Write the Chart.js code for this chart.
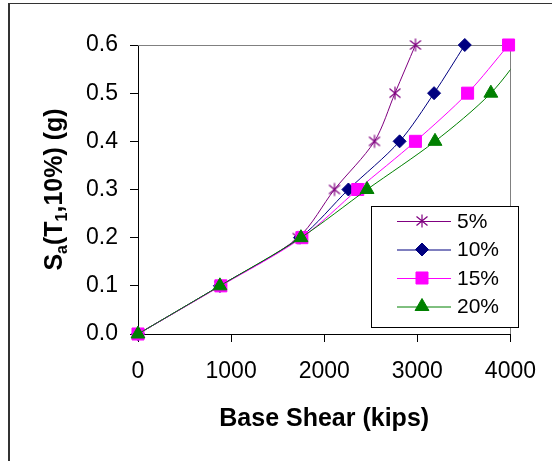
<!DOCTYPE html>
<html>
<head>
<meta charset="utf-8">
<script src="https://cdn.jsdelivr.net/npm/chart.js@4"></script>
<style>
  html, body { margin: 0; padding: 0; background: #fff; }
  #wrap { position: relative; width: 552px; height: 461px; }
  canvas { display: block; }
</style>
</head>
<body>
<div id="wrap"><canvas id="c" width="552" height="461"></canvas></div>
<script>
// ---- data ----
const seriesNames = ['5%', '10%', '15%', '20%'];
const saValues = [0, 0.1, 0.2, 0.3, 0.4, 0.5, 0.6];
const shear5 = [0, 880, 1720, 2110, 2540, 2760, 2980];
const shear10 = [0, 880, 1740, 2260, 2810, 3180, 3510];
const shear15 = [0, 890, 1760, 2360, 2980, 3540, 3980];
const shear20 = [0, 880, 1750, 2460, 3190, 3790, 4200];
const xTicks = [0, 1000, 2000, 3000, 4000];
const yTicks = [0, 0.1, 0.2, 0.3, 0.4, 0.5, 0.6];

const colors = ['#800080', '#000080', '#FF00FF', '#008000'];

// asterisk marker
function makeAsterisk(color) {
  const c = document.createElement('canvas');
  c.width = 16; c.height = 16;
  const g = c.getContext('2d');
  g.strokeStyle = color; g.lineWidth = 1.2;
  g.beginPath();
  g.moveTo(8, 1.5); g.lineTo(8, 14.5);
  g.moveTo(2.5, 3.5); g.lineTo(13.5, 12.5);
  g.moveTo(2.5, 12.5); g.lineTo(13.5, 3.5);
  g.stroke();
  return c;
}
const asterisk = makeAsterisk(colors[0]);

const styles = [
  { pointStyle: asterisk, radius: 7 },
  { pointStyle: 'rectRot', radius: 6.5 },
  { pointStyle: 'rect', radius: 8.5 },
  { pointStyle: 'triangle', radius: 8 }
];
const shearSeries = [shear5, shear10, shear15, shear20];

const datasets = shearSeries.map((arr, i) => ({
  label: seriesNames[i],
  data: arr.map((x, j) => ({ x: x, y: saValues[j] })),
  showLine: true,
  borderColor: colors[i],
  backgroundColor: colors[i],
  borderWidth: 1,
  tension: 0.3,
  pointStyle: styles[i].pointStyle,
  pointRadius: styles[i].radius,
  pointHoverRadius: styles[i].radius,
  pointBorderWidth: 1,
  pointBorderColor: colors[i],
  pointBackgroundColor: colors[i],
  order: 4 - i,
  clip: i === 3 ? { left: 20, top: 20, right: 0, bottom: 20 } : false
}));

const FONT = "'Liberation Sans', Arial, sans-serif";

const framePlugin = {
  id: 'frame',
  beforeDraw(chart) {
    const ctx = chart.ctx;
    ctx.save();
    ctx.fillStyle = '#fff';
    ctx.fillRect(0, 0, chart.width, chart.height);
    ctx.strokeStyle = '#333';
    ctx.lineWidth = 1;
    ctx.beginPath();
    ctx.moveTo(8, 3.5); ctx.lineTo(chart.width, 3.5);
    ctx.stroke();
    ctx.lineWidth = 2;
    ctx.beginPath();
    ctx.moveTo(9, 3); ctx.lineTo(9, chart.height);
    ctx.stroke();
    ctx.restore();
  },
  beforeDatasetsDraw(chart) {
    const ctx = chart.ctx;
    const a = chart.chartArea;
    ctx.save();
    ctx.strokeStyle = '#808080';
    ctx.lineWidth = 1;
    ctx.beginPath();
    ctx.moveTo(a.left, Math.round(a.top) + 0.5);
    ctx.lineTo(Math.round(a.right) + 0.5, Math.round(a.top) + 0.5);
    ctx.lineTo(Math.round(a.right) + 0.5, a.bottom);
    ctx.stroke();
    ctx.restore();
  },
  afterDraw(chart) {
    const ctx = chart.ctx;
    // y axis title with subscripts
    const parts = [
      ['S', false], ['a', true], ['(T', false], ['1', true], [',10%) (g)', false]
    ];
    const mainFont = "bold 25px " + FONT;
    const subFont = "bold 16px " + FONT;
    ctx.save();
    let total = 0;
    parts.forEach(p => { ctx.font = p[1] ? subFont : mainFont; total += ctx.measureText(p[0]).width; });
    ctx.translate(62, (chart.chartArea.top + chart.chartArea.bottom) / 2);
    ctx.rotate(-Math.PI / 2);
    ctx.fillStyle = '#000';
    ctx.textBaseline = 'alphabetic';
    ctx.textAlign = 'left';
    let x = -total / 2;
    parts.forEach(p => {
      ctx.font = p[1] ? subFont : mainFont;
      ctx.fillText(p[0], x, p[1] ? 5 : 0);
      x += ctx.measureText(p[0]).width;
    });
    ctx.restore();

    // legend box
    ctx.save();
    ctx.fillStyle = '#fff';
    ctx.fillRect(371, 206, 148, 122);
    ctx.strokeStyle = '#000';
    ctx.lineWidth = 1;
    ctx.strokeRect(371.5, 206.5, 147, 121);
    const rows = [221, 249.5, 278, 306.5];
    chart.data.datasets.forEach((ds, i) => {
      const y = rows[i];
      ctx.strokeStyle = ds.borderColor;
      ctx.lineWidth = 1;
      ctx.beginPath();
      ctx.moveTo(397, y + 0.5); ctx.lineTo(451, y + 0.5);
      ctx.stroke();
      ctx.fillStyle = ds.backgroundColor;
      Chart.helpers.drawPoint(ctx, {
        pointStyle: ds.pointStyle, radius: ds.pointRadius, rotation: 0, borderWidth: 1
      }, 422, y);
      ctx.fillStyle = '#000';
      ctx.font = "21px " + FONT;
      ctx.textBaseline = 'middle';
      ctx.textAlign = 'left';
      ctx.fillText(ds.label, 457, y + 1);
    });
    ctx.restore();
  }
};

new Chart(document.getElementById('c'), {
  type: 'scatter',
  data: { datasets: datasets },
  options: {
    responsive: false,
    animation: false,
    events: [],
    layout: { padding: { top: 45, right: 40, left: 0, bottom: 0 } },
    plugins: { legend: { display: false }, tooltip: { enabled: false } },
    scales: {
      x: {
        type: 'linear',
        min: 0, max: 4000,
        afterBuildTicks(scale) { scale.ticks = xTicks.map(v => ({ value: v })); },
        afterFit(scale) { scale.height = 127; },
        grid: { drawOnChartArea: false, drawTicks: true, tickLength: 8, color: '#000' },
        border: { display: true, color: '#000', width: 1 },
        ticks: {
          color: '#000', padding: 16, maxRotation: 0,
          font: { family: FONT, size: 23 },
          callback: v => String(v)
        },
        title: {
          display: true, text: 'Base Shear (kips)', color: '#000',
          font: { family: FONT, size: 25, weight: 'bold' },
          padding: { top: 0, bottom: 27 }
        }
      },
      y: {
        type: 'linear',
        min: 0, max: 0.6,
        afterBuildTicks(scale) { scale.ticks = yTicks.map(v => ({ value: v })); },
        afterFit(scale) { scale.width = 138; },
        grid: { drawOnChartArea: false, drawTicks: true, tickLength: 8, color: '#000' },
        border: { display: true, color: '#000', width: 1 },
        ticks: {
          color: '#000', padding: 12,
          font: { family: FONT, size: 23 },
          callback: v => Number(v).toFixed(1)
        }
      }
    }
  },
  plugins: [framePlugin]
});
</script>
</body>
</html>
